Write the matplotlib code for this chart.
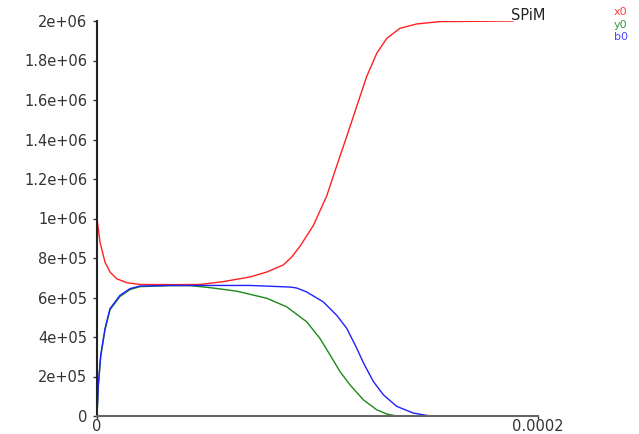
import matplotlib
matplotlib.use("Agg")
import matplotlib.pyplot as plt
import numpy as np

# time in microseconds
t_x0 = [0, 1.36, 3.63, 5.90, 8.93, 13.47, 19.5, 33.1, 46.7, 57.0, 69.4, 77.0,
        84.5, 88.3, 92.1, 98.1, 104.2, 108.7, 113.3, 117.8, 122.3, 126.9, 131.4,
        137.4, 145.0, 155.6, 188.7]
x0 = [1.0e6, 0.88e6, 0.779e6, 0.729e6, 0.695e6, 0.675e6, 0.666e6, 0.665e6,
      0.666e6, 0.68e6, 0.704e6, 0.729e6, 0.765e6, 0.805e6, 0.86e6, 0.964e6,
      1.115e6, 1.266e6, 1.417e6, 1.568e6, 1.719e6, 1.837e6, 1.912e6, 1.963e6,
      1.985e6, 1.997e6, 2.0e6]

t_y0 = [0, 0.59, 1.68, 3.63, 5.90, 10.43, 14.97, 19.5, 33.1, 42.2, 51.2, 63.4,
        77.0, 86.0, 95.1, 101.1, 105.7, 110.2, 114.7, 120.8, 126.8, 131.4, 135.9]
y0 = [0, 150e3, 300e3, 435e3, 538e3, 605e3, 640e3, 655e3, 660e3, 660e3, 650e3,
      632e3, 596e3, 553e3, 477e3, 393e3, 309e3, 225e3, 158e3, 82e3, 32e3, 10e3, 0]

t_b0 = [0, 0.59, 1.68, 3.63, 5.90, 10.43, 14.97, 19.5, 33.1, 69.4, 87.5, 90.6,
        95.1, 102.6, 108.7, 113.3, 117.8, 120.8, 125.3, 129.9, 135.9, 143.4,
        149.5, 151.9]
b0 = [0, 158e3, 309e3, 443e3, 544e3, 611e3, 645e3, 658e3, 661e3, 661e3, 653e3,
      648e3, 628e3, 578e3, 510e3, 443e3, 343e3, 270e3, 175e3, 107e3, 49e3,
      15e3, 3e3, 0]

y_ticks = [0, 2e5, 4e5, 6e5, 8e5, 1e6, 1.2e6, 1.4e6, 1.6e6, 1.8e6, 2e6]
y_labels = ["0", "2e+05", "4e+05", "6e+05", "8e+05", "1e+06", "1.2e+06",
            "1.4e+06", "1.6e+06", "1.8e+06", "2e+06"]
x_ticks = [0, 2e-4]
x_labels = ["0", "0.0002"]

plt.rcParams["font.family"] = ["DejaVu Sans"]

fig = plt.figure(figsize=(6.39, 4.34), dpi=100)
ax = fig.add_axes([97 / 639, 18 / 434, 441 / 639, 395 / 434])

ax.plot(np.array(t_x0) * 1e-6, x0, color="#ff2020", lw=1.0)
ax.plot(np.array(t_y0) * 1e-6, y0, color="#1a8a1a", lw=1.0)
ax.plot(np.array(t_b0) * 1e-6, b0, color="#2020ff", lw=1.0)

ax.set_xlim(0, 2e-4)
ax.set_ylim(0, 2e6)
ax.set_xticks(x_ticks)
ax.set_xticklabels(x_labels)
ax.set_yticks(y_ticks)
ax.set_yticklabels(y_labels)
ax.tick_params(axis="both", width=1, labelsize=10.5, colors="#333333")
ax.tick_params(axis="y", length=3, pad=4)
ax.tick_params(axis="x", length=2, pad=0)

for s in ["top", "right"]:
    ax.spines[s].set_visible(False)
ax.spines["left"].set_linewidth(1.5)
ax.spines["left"].set_color("#222222")
ax.spines["bottom"].set_linewidth(1.5)
ax.spines["bottom"].set_color("#666666")

fig.text(545 / 639, 1 - 15 / 434, "SPiM", ha="right", va="center", fontsize=10.5,
         color="#222222")
legend_items = [("x0", "#ff4040"), ("y0", "#3a9a3a"), ("b0", "#4a4aff")]
for i, (name, col) in enumerate(legend_items):
    fig.text(614 / 639, 1 - (12 + 12.5 * i) / 434, name, ha="left", va="center",
             fontsize=8, color=col)

fig.savefig("out.png", dpi=100)
